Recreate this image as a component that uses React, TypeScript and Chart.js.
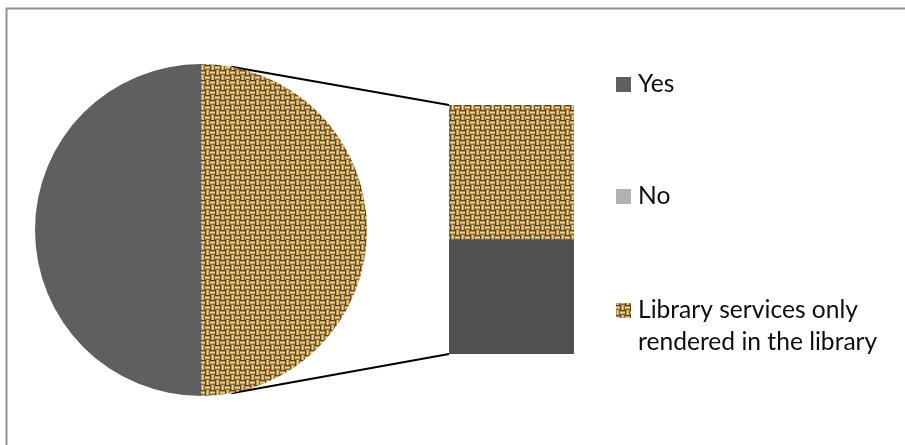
import React, { useEffect, useRef } from "react";
import { Chart, registerables } from "chart.js";

Chart.register(...registerables);

// ---- data ----
const categories = ["Yes", "No", "Library services only rendered in the library"];
const shares = [50, 23, 27]; // Yes, No, Library services only rendered in the library
const pieLabels = ["Other", "Yes"];
const pieValues = [shares[1] + shares[2], shares[0]];
const barLabels = ["Other"];
const barNoValues = [shares[1]];
const barLibraryValues = [shares[2]];

// ---- styles ----
const W = 905;
const H = 445;
const YES_COLOR = "#5f5f5f";
const NO_COLOR = "#b2b2b2";
const BAR_DARK = "#505050";
const FONT = "Lato, 'Open Sans', sans-serif";

function makeBurlap(): CanvasPattern | string {
  const B = 5;
  const N = 4;
  const c = document.createElement("canvas");
  c.width = B * N;
  c.height = B * N;
  const g = c.getContext("2d");
  if (!g) return "#b08f58";
  const prof = ["#5e4420", "#b8924f", "#ead49a", "#c9a664", "#8a6a32"];
  for (let by = 0; by < N; by++) {
    for (let bx = 0; bx < N; bx++) {
      const horiz = (bx + by) % 2 === 0;
      for (let k = 0; k < B; k++) {
        g.fillStyle = prof[k];
        if (horiz) g.fillRect(bx * B, by * B + k, B, 1);
        else g.fillRect(bx * B + k, by * B, 1, B);
      }
      g.fillStyle = "rgba(80,56,24,0.6)";
      g.fillRect(bx * B, by * B, 1, 1);
    }
  }
  return g.createPattern(c, "repeat") || "#b08f58";
}

function wrap(ctx: CanvasRenderingContext2D, text: string, maxW: number): string[] {
  const words = text.split(" ");
  const lines: string[] = [];
  let cur = "";
  for (const w of words) {
    const t = cur ? cur + " " + w : w;
    if (ctx.measureText(t).width > maxW && cur) {
      lines.push(cur);
      cur = w;
    } else cur = t;
  }
  if (cur) lines.push(cur);
  return lines;
}

export default function App() {
  const barRef = useRef<HTMLCanvasElement>(null);
  const pieRef = useRef<HTMLCanvasElement>(null);

  useEffect(() => {
    document.body.style.margin = "0";
    const burlap = makeBurlap();

    const pieChart = new Chart(pieRef.current!, {
      type: "pie",
      data: {
        labels: pieLabels,
        datasets: [
          {
            data: pieValues,
            backgroundColor: [burlap as any, YES_COLOR],
            borderWidth: 0,
            hoverOffset: 0,
            offset: 0,
          } as any,
        ],
      },
      options: {
        responsive: false,
        animation: false,
        events: [],
        layout: { padding: { left: 35, right: W - 367, top: 64, bottom: H - 396 } },
        plugins: { legend: { display: false }, tooltip: { enabled: false } },
      },
    });

    const decor = {
      id: "decor",
      afterDraw(chart: any) {
        const ctx: CanvasRenderingContext2D = chart.ctx;
        ctx.save();
        // frame
        ctx.strokeStyle = "#8f8f8f";
        ctx.lineWidth = 2;
        ctx.beginPath();
        ctx.moveTo(6.5, H);
        ctx.lineTo(6.5, 8.5);
        ctx.lineTo(W, 8.5);
        ctx.stroke();

        // series lines
        const arc: any = pieChart.getDatasetMeta(0).data[0];
        const cx = arc.x;
        const cy = arc.y;
        const r = arc.outerRadius;
        const topBar: any = chart.getDatasetMeta(1).data[0];
        const botBar: any = chart.getDatasetMeta(0).data[0];
        const left = topBar.x - topBar.width / 2;
        const ang = (10.5 * Math.PI) / 180;
        ctx.strokeStyle = "#000";
        ctx.lineWidth = 2;
        ctx.beginPath();
        ctx.moveTo(cx + r * Math.sin(ang), cy - r * Math.cos(ang));
        ctx.lineTo(left, topBar.y);
        ctx.moveTo(cx + r * Math.sin(ang), cy + r * Math.cos(ang));
        ctx.lineTo(left, botBar.base);
        ctx.stroke();

        // legend
        const markers = [YES_COLOR, NO_COLOR, burlap];
        const baselines = [92, 204, 318];
        ctx.font = `24.6px ${FONT}`;
        ctx.textBaseline = "alphabetic";
        categories.forEach((label, i) => {
          const by = baselines[i];
          ctx.fillStyle = markers[i] as any;
          ctx.fillRect(616, by - 15, 15, 15);
          ctx.fillStyle = "#0d0d0d";
          const lines = wrap(ctx, label, 250);
          lines.forEach((ln, j) => ctx.fillText(ln, 638, by + j * 32));
        });
        ctx.restore();
      },
    };

    const barChart = new Chart(barRef.current!, {
      type: "bar",
      data: {
        labels: barLabels,
        datasets: [
          {
            label: categories[1],
            data: barNoValues,
            backgroundColor: BAR_DARK,
            borderWidth: 0,
            barPercentage: 1,
            categoryPercentage: 1,
          },
          {
            label: categories[2],
            data: barLibraryValues,
            backgroundColor: burlap as any,
            borderWidth: 0,
            barPercentage: 1,
            categoryPercentage: 1,
          },
        ],
      },
      options: {
        responsive: false,
        animation: false,
        events: [],
        layout: { padding: { left: 449, right: W - 574, top: 105, bottom: H - 354 } },
        scales: {
          x: { stacked: true, display: false },
          y: { stacked: true, display: false, min: 0, max: shares[1] + shares[2] },
        },
        plugins: { legend: { display: false }, tooltip: { enabled: false } },
      },
      plugins: [decor],
    });

    return () => {
      barChart.destroy();
      pieChart.destroy();
    };
  }, []);

  return (
    <div style={{ position: "relative", width: W, height: H, overflow: "hidden", background: "#fff" }}>
      <canvas ref={barRef} width={W} height={H} style={{ position: "absolute", left: 0, top: 0 }} />
      <canvas ref={pieRef} width={W} height={H} style={{ position: "absolute", left: 0, top: 0 }} />
    </div>
  );
}
